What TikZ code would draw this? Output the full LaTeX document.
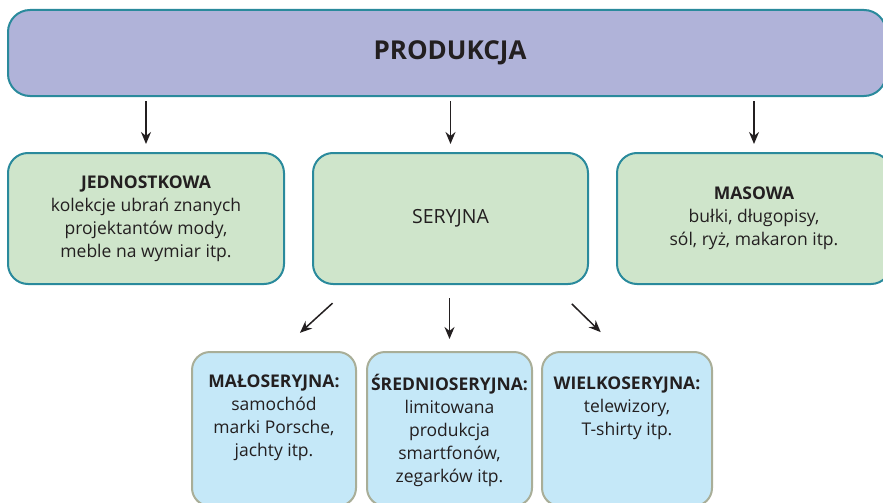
\documentclass[tikz,border=0pt]{standalone}
\usepackage{fontspec}
\setmainfont{Open Sans}
\usetikzlibrary{arrows.meta}

\definecolor{topfill}{HTML}{B0B3D9}
\definecolor{greenfill}{HTML}{CFE5CB}
\definecolor{bluefill}{HTML}{C5E8F8}
\definecolor{tealline}{HTML}{2A8A9C}
\definecolor{greyline}{HTML}{A9AE98}
\definecolor{ink}{HTML}{231F20}

\tikzset{
  topbox/.style={draw=tealline, fill=topfill, line width=2pt, rounded corners=22pt},
  kindbox/.style={draw=tealline, fill=greenfill, line width=2pt, rounded corners=20pt,
    minimum height=131pt, align=center, text=ink},
  subbox/.style={draw=greyline, fill=bluefill, line width=2pt, rounded corners=18pt,
    minimum height=154pt},
  subtext/.style={anchor=north, align=center, text=ink},
  arr/.style={-{Stealth[length=12pt,width=10pt]}, line width=1.5pt, draw=ink},
}

\begin{document}
\begin{tikzpicture}[x=1pt, y=-1pt, font=\fontsize{17.5}{23}\selectfont]
  \useasboundingbox (0,0) rectangle (883,503);
  \clip (0,0) rectangle (883,503);

  % TOP
  \node [topbox, minimum width=878pt, minimum height=86pt] (prod) at (447,53) {};
  \node [text=ink, font=\fontsize{26}{30}\selectfont\bfseries] (prodtxt) at (450,53) {PRODUKCJA};

  % KINDS
  \node [kindbox, minimum width=276pt] (jed) at (146,218.5)
    {\textbf{JEDNOSTKOWA}\\kolekcje ubrań znanych\\projektantów mody,\\meble na wymiar itp.};
  \node [kindbox, minimum width=275pt, font=\fontsize{19.5}{24}\selectfont] (ser) at (450.5,218.5) {SERYJNA};
  \node [kindbox, minimum width=274pt] (mas) at (754,218.5)
    {\textbf{MASOWA}\\bułki, długopisy,\\sól, ryż, makaron itp.};

  % SERIES
  \node [subbox, minimum width=164pt] (malo) at (274,429) {};
  \node [subbox, minimum width=165pt] (sred) at (449.5,429) {};
  \node [subbox, minimum width=170pt] (wiel) at (627,429) {};

  \node [subtext] (malotxt) at ([yshift=-20pt]malo.north)
    {\textbf{MAŁOSERYJNA:}\\samochód\\marki Porsche,\\jachty itp.};
  \node [subtext] (sredtxt) at ([yshift=-20pt]sred.north)
    {\textbf{ŚREDNIOSERYJNA:}\\limitowana\\produkcja\\smartfonów,\\zegarków itp.};
  \node [subtext] (wieltxt) at ([yshift=-22pt]wiel.north)
    {\textbf{WIELKOSERYJNA:}\\telewizory,\\T-shirty itp.};

  % ARROWS
  \draw [arr, shorten <=4pt, shorten >=8pt] (prod.south -| jed.north) -- (jed.north);
  \draw [arr, shorten <=4pt, shorten >=8pt] (prod.south -| ser.north) -- (ser.north);
  \draw [arr, shorten <=4pt, shorten >=8pt] (prod.south -| mas.north) -- (mas.north);

  \draw [arr, shorten <=27pt, shorten >=27pt] ([xshift=-98pt]ser.south) -- ([xshift=6pt]malo.north);
  \draw [arr, shorten <=13pt, shorten >=12pt] (ser.south -| sred.north) -- (sred.north);
  \draw [arr, shorten <=27pt, shorten >=27pt] ([xshift=102pt]ser.south) -- ([xshift=-7pt]wiel.north);

\end{tikzpicture}
\end{document}
